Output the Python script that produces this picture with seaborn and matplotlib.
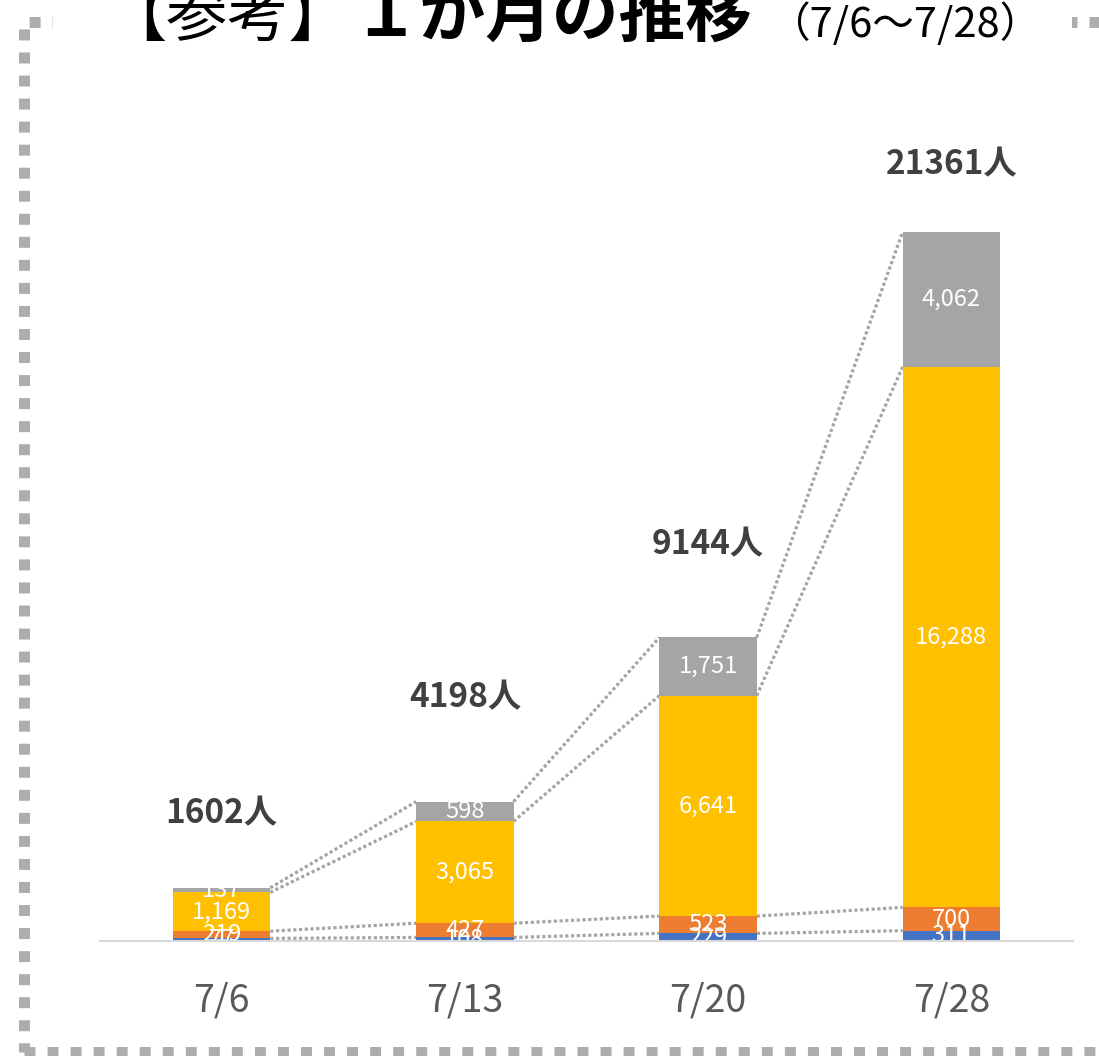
import matplotlib
matplotlib.use("Agg")
import matplotlib.pyplot as plt
import matplotlib.patches as mpatches
import numpy as np
import seaborn as sns

# データ（積み上げの下から順に）
dates = ["7/6", "7/13", "7/20", "7/28"]
blue_vals = [77, 108, 229, 311]
orange_vals = [219, 427, 523, 700]
yellow_vals = [1169, 3065, 6641, 16288]
gray_vals = [137, 598, 1751, 4062]
totals = [1602, 4198, 9144, 21361]
total_labels = ["1602人", "4198人", "9144人", "21361人"]

# 見た目の設定
colors = ["#4472C4", "#ED7D31", "#FFC000", "#A5A5A5"]
label_pad_pt = [53, 75, 67, 48]
bar_w = 0.4

sns.set_style("white")
plt.rcParams["font.family"] = ["Noto Sans CJK JP", "DejaVu Sans"]

W, H = 1099, 1056
fig = plt.figure(figsize=(W / 100, H / 100), dpi=100)
ax = fig.add_axes([100 / W, 115 / H, 973 / W, 830 / H])

series = [blue_vals, orange_vals, yellow_vals, gray_vals]
cum = np.cumsum(np.array(series), axis=0)

# 積み上げ棒：累積値を上の段から重ねて描く
for level in range(3, -1, -1):
    sns.barplot(x=dates, y=cum[level], color=colors[level], width=bar_w,
                saturation=1, errorbar=None, ax=ax, zorder=2, linewidth=0)

# 系列線（点線）
for level in range(4):
    for i in range(len(dates) - 1):
        ax.plot([i + bar_w / 2, i + 1 - bar_w / 2], [cum[level][i], cum[level][i + 1]],
                color="#A5A5A5", lw=2.3, linestyle=(0, (1, 0.8)), zorder=1,
                solid_capstyle="butt")

# 各区分の値ラベル
for level in range(4):
    for i in range(len(dates)):
        v = series[level][i]
        y = cum[level][i] - v / 2
        ax.text(i, y, f"{v:,}", ha="center", va="center", color="white",
                fontsize=17, zorder=3)

# 合計ラベル
for i in range(len(dates)):
    ax.annotate(total_labels[i], (i, totals[i]), xytext=(0, label_pad_pt[i]),
                textcoords="offset points", ha="center", va="center",
                fontsize=24, fontweight="bold", color="#404040")

ax.set_xlim(-0.5, 3.5)
ax.set_ylim(0, 25000)
ax.set_xlabel("")
ax.set_ylabel("")
ax.set_yticks([])
for s in ["top", "right", "left"]:
    ax.spines[s].set_visible(False)
ax.spines["bottom"].set_color("#D9D9D9")
ax.spines["bottom"].set_linewidth(1.5)
ax.spines["bottom"].set_zorder(4)
ax.set_xticks(range(len(dates)))
ax.set_xticklabels(dates)
ax.set_xticks(np.arange(-0.5, 4, 1), minor=True)
ax.tick_params(axis="x", which="major", length=0, labelsize=27,
               labelcolor="#595959", pad=29)
ax.tick_params(axis="x", which="minor", length=10, width=1.5, color="#D9D9D9")

# 外枠（点線）
frame = mpatches.Rectangle((24 / W, 4 / H), (1115 - 24) / W, (1034 - 4) / H,
                           transform=fig.transFigure, fill=False,
                           edgecolor="#ADADAD", lw=7.9,
                           linestyle=(0, (1, 1.1)), zorder=0)
fig.patches.append(frame)
cover = mpatches.Rectangle((53 / W, 1015 / H), (1072 - 53) / W, 40 / H,
                           transform=fig.transFigure, facecolor="white",
                           edgecolor="none", zorder=1)
fig.patches.append(cover)

# タイトル
base_y = 1 - 37 / H
fig.text(105 / W, base_y, "【参考】", fontsize=44, color="black",
         ha="left", va="baseline")
fig.text(352 / W, base_y, "１か月の推移", fontsize=48, fontweight="bold",
         color="black", ha="left", va="baseline")
fig.text(768 / W, base_y, "（7/6～7/28）", fontsize=30, color="black",
         ha="left", va="baseline")

fig.savefig("out.png", dpi=100)
